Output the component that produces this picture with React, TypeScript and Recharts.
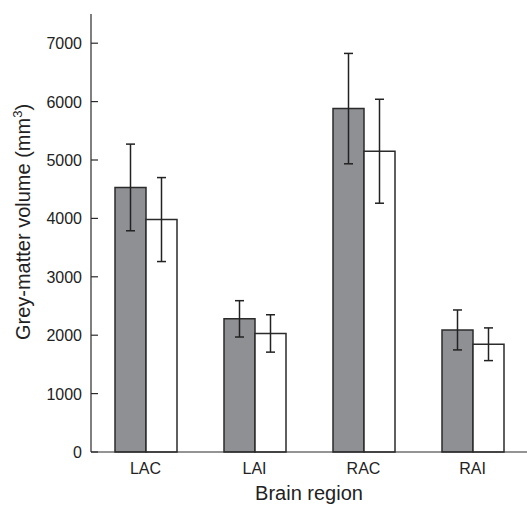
import { BarChart, Bar, XAxis, YAxis, ErrorBar } from 'recharts';

const regions = ['LAC', 'LAI', 'RAC', 'RAI'];
const greyMeans = [4530, 2280, 5880, 2090];
const greyErrors = [742, 311, 945, 342];
const whiteMeans = [3980, 2030, 5150, 1845];
const whiteErrors = [719, 320, 890, 280];
const yTicks = [0, 1000, 2000, 3000, 4000, 5000, 6000, 7000];

const data = regions.map((region, i) => ({
  region,
  grey: greyMeans[i],
  greyErr: greyErrors[i],
  white: whiteMeans[i],
  whiteErr: whiteErrors[i],
}));

const FONT = '"Liberation Sans", Arial, sans-serif';
const INK = '#2b2b2b';

const YTick = (props: any) => {
  const { x, y, payload } = props;
  return (
    <g>
      <line x1={x} y1={y} x2={x + 7} y2={y} stroke={INK} strokeWidth={1.2} />
      <text x={x - 9} y={y} dy={6} textAnchor="end" fontSize={16} fill="#222" fontFamily={FONT}>
        {payload.value}
      </text>
    </g>
  );
};

const YTitle = (props: any) => {
  const { viewBox } = props;
  const cx = 30;
  const cy = viewBox.y + viewBox.height / 2 - 11;
  return (
    <text
      x={cx}
      y={cy}
      transform={`rotate(-90, ${cx}, ${cy})`}
      textAnchor="middle"
      fontSize={20}
      fill="#222"
      fontFamily={FONT}
    >
      Grey-matter volume (mm
      <tspan fontSize={13} dy={-8}>3</tspan>
      <tspan dy={8}>)</tspan>
    </text>
  );
};

export default function App() {
  return (
    <div style={{ position: 'absolute', left: 0, top: 0, background: '#fff' }}>
      <BarChart
        width={527}
        height={505}
        data={data}
        margin={{ top: 14, right: 0, bottom: 23, left: 0 }}
        barGap={0}
        barSize={31}
      >
        <XAxis
          dataKey="region"
          tickLine={false}
          axisLine={{ stroke: INK, strokeWidth: 1.2 }}
          tick={{ fontSize: 16, fill: '#222', fontFamily: FONT }}
          tickMargin={5}
          height={30}
          label={{
            value: 'Brain region',
            position: 'insideBottom',
            offset: -18,
            fontSize: 20,
            fill: '#222',
            fontFamily: FONT,
          }}
        />
        <YAxis
          width={91}
          domain={[0, 7500]}
          ticks={yTicks}
          tickSize={0}
          tickMargin={0}
          tickLine={false}
          axisLine={{ stroke: INK, strokeWidth: 1.2 }}
          tick={<YTick />}
          label={<YTitle />}
        />
        <Bar dataKey="grey" fill="#8f9094" stroke={INK} strokeWidth={1.5} isAnimationActive={false}>
          <ErrorBar dataKey="greyErr" width={4.5} stroke="#222" strokeWidth={1.5} />
        </Bar>
        <Bar dataKey="white" fill="#ffffff" stroke={INK} strokeWidth={1.5} isAnimationActive={false}>
          <ErrorBar dataKey="whiteErr" width={4.5} stroke="#222" strokeWidth={1.5} />
        </Bar>
      </BarChart>
    </div>
  );
}
